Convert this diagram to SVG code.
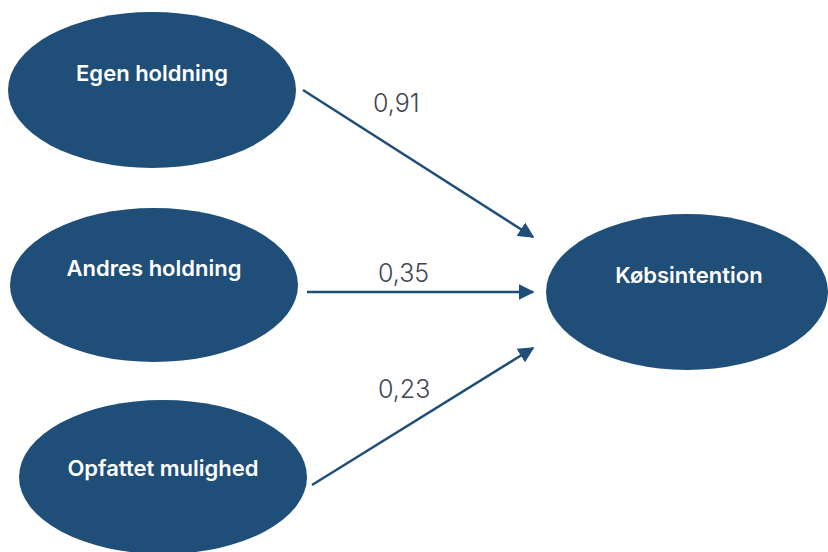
<svg xmlns="http://www.w3.org/2000/svg" width="828" height="552" viewBox="0 0 828 552">
  <style>
    .node { fill: #1F4E79; }
    .nlabel { fill: #ffffff; font-family: Inter, "Open Sans", "Liberation Sans", sans-serif; font-weight: 600; font-size: 22px; text-anchor: middle; }
    .edge { stroke: #1F4E79; stroke-width: 2.5; fill: none; marker-end: url(#arr); }
    .elabel { fill: #404654; font-family: Inter, "Open Sans", "Liberation Sans", sans-serif; font-weight: 300; font-size: 25px; }
  </style>
  <defs>
    <marker id="arr" viewBox="0 0 10 10" refX="9" refY="5" markerWidth="6.4" markerHeight="6.4" markerUnits="strokeWidth" orient="auto">
      <path d="M0,0 L10,5 L0,10 Z" fill="#1F4E79"/>
    </marker>
  </defs>
  <rect width="828" height="552" fill="#ffffff"/>
  <g id="egen">
    <ellipse class="node" cx="152" cy="90" rx="144" ry="78"/>
    <text class="nlabel" x="152" y="81">Egen holdning</text>
  </g>
  <g id="andres">
    <ellipse class="node" cx="154" cy="285" rx="144" ry="77"/>
    <text class="nlabel" x="154" y="276">Andres holdning</text>
  </g>
  <g id="opfattet">
    <ellipse class="node" cx="163" cy="477" rx="144" ry="77"/>
    <text class="nlabel" x="163" y="476">Opfattet mulighed</text>
  </g>
  <g id="kob">
    <ellipse class="node" cx="687" cy="292" rx="141" ry="78"/>
    <text class="nlabel" x="689" y="283">Købsintention</text>
  </g>
  <g id="connectors">
    <line class="edge" x1="303" y1="90" x2="533" y2="237"/>
    <line class="edge" x1="307" y1="292" x2="533" y2="292"/>
    <line class="edge" x1="312" y1="485" x2="533" y2="348"/>
    <text class="elabel" x="373" y="112">0,91</text>
    <text class="elabel" x="378" y="282">0,35</text>
    <text class="elabel" x="378" y="398">0,23</text>
  </g>
</svg>
